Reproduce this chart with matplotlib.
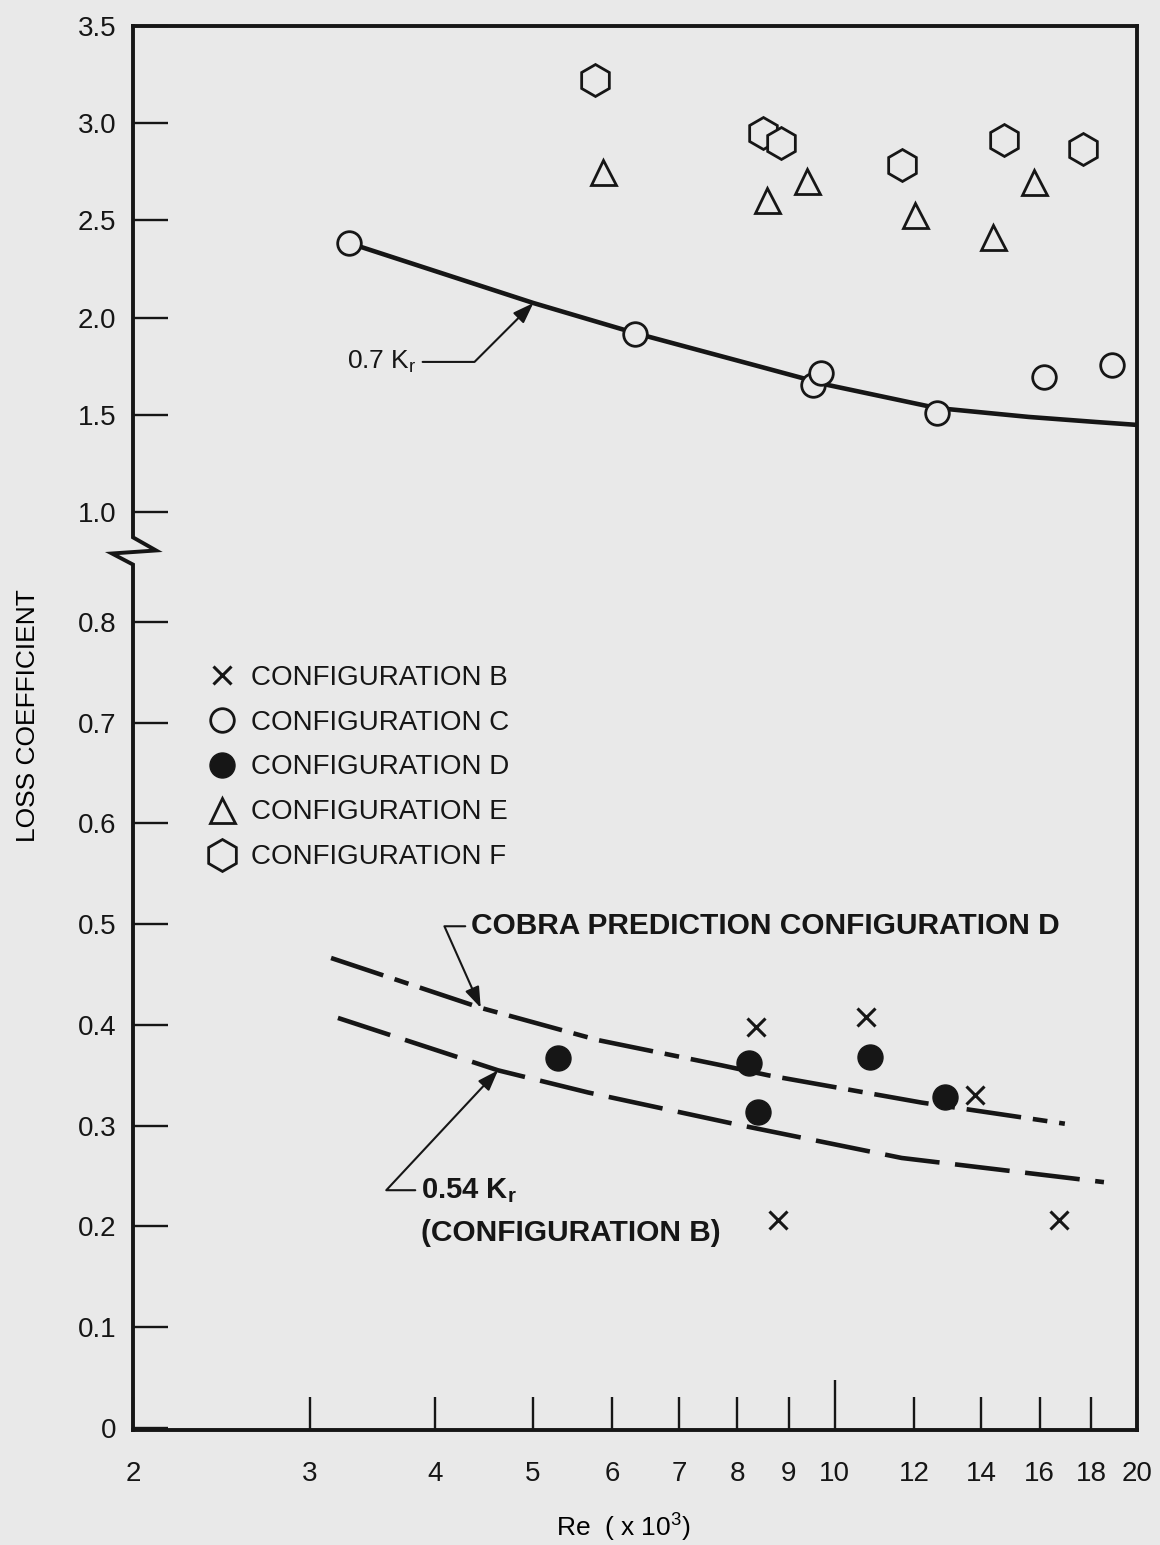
import matplotlib

matplotlib.use("Agg")
import matplotlib.pyplot as plt
import numpy as np
from matplotlib.lines import Line2D

# Re (x 10^3) vs loss coefficient
re_b = [8.35, 10.75, 13.78, 8.78, 16.72]
k_b = [0.398, 0.408, 0.331, 0.206, 0.206]
re_c = [3.28, 6.32, 9.52, 9.70, 12.63, 16.15, 18.88]
k_c = [2.384, 1.916, 1.653, 1.715, 1.509, 1.694, 1.756]
re_d = [5.30, 8.22, 8.39, 10.83, 12.87]
k_d = [0.367, 0.362, 0.314, 0.368, 0.329]
re_e = [5.88, 8.57, 9.39, 12.03, 14.37, 15.78]
k_e = [2.749, 2.605, 2.703, 2.528, 2.415, 2.698]
re_f = [5.77, 8.49, 8.85, 11.66, 14.73, 17.67]
k_f = [3.222, 2.950, 2.898, 2.785, 2.914, 2.867]

# curves
re_kr07 = [3.28, 5.01, 6.32, 8.45, 9.85, 12.63, 15.6, 18.2, 20.0]
k_kr07 = [2.384, 2.075, 1.921, 1.746, 1.653, 1.535, 1.489, 1.463, 1.448]
re_cobra = [3.15, 4.44, 5.81, 7.71, 8.59, 12.2, 16.95]
k_cobra = [0.4665, 0.417, 0.385, 0.360, 0.350, 0.323, 0.302]
re_kr054 = [3.20, 4.62, 5.68, 8.01, 11.66, 18.54]
k_kr054 = [0.407, 0.355, 0.333, 0.301, 0.268, 0.244]

xticks = [2, 3, 4, 5, 6, 7, 8, 9, 12, 14, 16, 18, 20]
yticks = [0, 0.1, 0.2, 0.3, 0.4, 0.5, 0.6, 0.7, 0.8, 1.0, 1.5, 2.0, 2.5, 3.0, 3.5]
ytick_labels = ["0", "0.1", "0.2", "0.3", "0.4", "0.5", "0.6", "0.7", "0.8",
                "1.0", "1.5", "2.0", "2.5", "3.0", "3.5"]
legend_labels = ["CONFIGURATION B", "CONFIGURATION C", "CONFIGURATION D",
                 "CONFIGURATION E", "CONFIGURATION F"]

BG = "#e9e9e9"
INK = "#161616"

# broken y axis: 0-0.9 stretched, 1.0-3.5 compressed
Y_KNOTS = [-1.0, 0.9, 1.0, 10.0]
P_KNOTS = [-1007.5, 906.75, 916.0, 916.0 + 9 * 194.4]


def fwd(y):
    return np.interp(y, Y_KNOTS, P_KNOTS)


def inv(p):
    return np.interp(p, P_KNOTS, Y_KNOTS)


plt.rcParams.update({
    "font.family": ["Liberation Sans", "DejaVu Sans"],
    "mathtext.fontset": "custom",
    "mathtext.rm": "Liberation Sans",
    "mathtext.it": "Liberation Sans:italic",
    "mathtext.bf": "Liberation Sans:bold",
    "text.color": INK,
})

fig = plt.figure(figsize=(11.6, 15.45), dpi=100, facecolor=BG)
ax = fig.add_axes([133 / 1160, 115 / 1545, 1004 / 1160, 1404 / 1545])
ax.set_facecolor(BG)
ax.set_xscale("log")
ax.set_yscale("function", functions=(fwd, inv))
ax.set_xlim(2, 20)
ax.set_ylim(-0.002, 3.5)

# curves
ax.plot(re_kr07, k_kr07, color=INK, lw=3.3, zorder=2, solid_capstyle="butt")
ax.plot(re_cobra, k_cobra, color=INK, lw=3.3, zorder=2,
        linestyle=(0, (12.0, 2.6, 3.2, 2.6)), dash_capstyle="butt")
ax.plot(re_kr054, k_kr054, color=INK, lw=3.3, zorder=2,
        linestyle=(0, (12.0, 3.4)), dash_capstyle="butt")

# data points
mk_b = dict(marker="x", ms=13, mew=2.2, color=INK, ls="none")
mk_c = dict(marker="o", ms=17, mew=2.0, mfc=BG, mec=INK, ls="none")
mk_d = dict(marker="o", ms=18, mew=1.0, mfc=INK, mec=INK, ls="none")
mk_e = dict(marker="^", ms=18, mew=2.0, mfc=BG, mec=INK, ls="none")
mk_f = dict(marker="h", ms=23, mew=2.0, mfc=BG, mec=INK, ls="none")
ax.plot(re_b, k_b, zorder=3, **mk_b)
ax.plot(re_c, k_c, zorder=3, **mk_c)
ax.plot(re_d, k_d, zorder=3, **mk_d)
ax.plot(re_e, k_e, zorder=3, **mk_e)
ax.plot(re_f, k_f, zorder=3, **mk_f)

handles = [Line2D([], [], **m) for m in (mk_b, mk_c, mk_d, mk_e, mk_f)]
ax.legend(handles, legend_labels, loc="upper left", bbox_to_anchor=(0.062, 0.553),
          frameon=False, fontsize=20, handlelength=1.1, handletextpad=0.5,
          labelspacing=0.68, borderpad=0.4, borderaxespad=0, labelcolor=INK)

# annotations
arrow = dict(arrowstyle="-|>,head_length=0.45,head_width=0.16", color=INK, lw=1.5,
             mutation_scale=28, shrinkB=0)
ax.annotate("0.7 K$_\\mathregular{r}$", xy=(5.01, 2.075), xytext=(3.27, 1.772),
            ha="left", va="center", fontsize=19,
            arrowprops=dict(connectionstyle="angle,angleA=0,angleB=45,rad=0", **arrow))
ax.annotate("COBRA PREDICTION CONFIGURATION D", xy=(4.44, 0.417), xytext=(4.34, 0.498),
            ha="left", va="center", fontsize=21.5, fontweight="bold",
            arrowprops=dict(connectionstyle="angle,angleA=0,angleB=-66,rad=0", **arrow))
ax.annotate("0.54 K$_\\mathregular{r}$", xy=(4.62, 0.355), xytext=(3.87, 0.236),
            ha="left", va="center", fontsize=21, fontweight="bold",
            arrowprops=dict(connectionstyle="angle,angleA=0,angleB=47,rad=0", **arrow))
ax.text(3.87, 0.1935, "(CONFIGURATION B)", ha="left", va="center",
        fontsize=21.5, fontweight="bold")

# axes styling
for side in ("top", "right", "bottom"):
    ax.spines[side].set_linewidth(2.8)
    ax.spines[side].set_color(INK)
ax.spines["left"].set_visible(False)
# left axis line with break symbol
ax.plot([0, 0, -0.021, 0.023, 0, 0], [-0.002, 0.857, 0.868, 0.871, 0.884, 3.5],
        transform=ax.get_yaxis_transform(), color=INK, lw=2.8, clip_on=False,
        solid_joinstyle="miter", zorder=4)

ax.set_xticks(xticks, labels=[str(t) for t in xticks])
ax.set_xticks([10], labels=["10"], minor=True)
ax.set_yticks(yticks, labels=ytick_labels)
ax.yaxis.set_minor_locator(matplotlib.ticker.NullLocator())
ax.tick_params(axis="both", which="both", direction="in", width=1.7, color=INK,
               labelsize=20, labelcolor=INK)
ax.tick_params(axis="y", length=25, pad=12)
ax.tick_params(axis="x", which="major", length=24, pad=22)
ax.tick_params(axis="x", which="minor", length=36, pad=22)

ax.set_xlabel("Re  ( x 10$^3$)", fontsize=19)
ax.xaxis.set_label_coords(0.488, -0.058)
ax.set_ylabel("LOSS COEFFICIENT", fontsize=19)
ax.yaxis.set_label_coords(-0.093, 0.509)

fig.savefig("out.png", dpi=100, facecolor=BG)
